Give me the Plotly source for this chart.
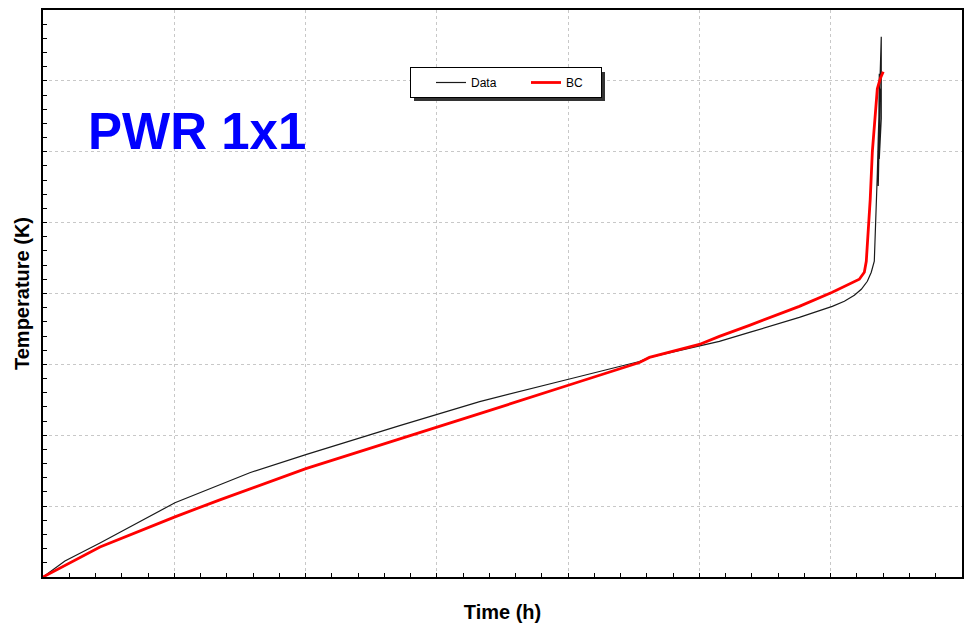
import plotly.graph_objects as go

# ---- data (grid units; tick labels absent in source) ----
data_time = [0, 0.167, 0.434, 1.005, 1.575, 2.002, 2.717, 2.998, 3.326, 3.995, 4.543,
             4.619, 4.999, 5.152, 5.381, 5.761, 6.012, 6.104, 6.180, 6.233, 6.279,
             6.309, 6.332, 6.339, 6.347, 6.355, 6.362, 6.370, 6.377, 6.385, 6.385,
             6.370, 6.377, 6.362, 6.370, 6.377]
data_temp = [0, 0.226, 0.481, 1.047, 1.471, 1.726, 2.136, 2.291, 2.475, 2.786, 3.041,
             3.098, 3.253, 3.324, 3.451, 3.663, 3.819, 3.890, 3.975, 4.059, 4.173,
             4.300, 4.455, 4.767, 5.191, 5.686, 6.181, 6.605, 7.143, 7.624, 6.464,
             5.898, 6.888, 5.516, 7.100, 6.747]

bc_time = [0, 0.129, 0.434, 1.005, 1.347, 2.002, 2.998, 3.326, 3.995, 4.543, 4.619,
           4.999, 5.152, 5.381, 5.761, 6.012, 6.218, 6.256, 6.271, 6.286, 6.301,
           6.317, 6.339, 6.355, 6.377, 6.400]
bc_temp = [0, 0.127, 0.424, 0.849, 1.089, 1.528, 2.107, 2.305, 2.702, 3.027, 3.098,
           3.281, 3.395, 3.550, 3.819, 4.017, 4.201, 4.300, 4.455, 4.837, 5.332,
           5.997, 6.464, 6.888, 7.030, 7.129]

x_range = [0, 7]
y_range = [0, 8]

fig = go.Figure()
fig.add_trace(go.Scatter(x=data_time, y=data_temp, mode="lines", name="Data",
                         line=dict(color="#1a1a1a", width=1.2)))
fig.add_trace(go.Scatter(x=bc_time, y=bc_temp, mode="lines", name="BC",
                         line=dict(color="#ff0000", width=2.8)))

W, H = 966, 636
ml, mr, mt, mb = 43, 4, 10, 59
pw, ph = W - ml - mr, H - mt - mb

def px(xp):
    return (xp - ml) / pw

def py(yp):
    return (H - mb - yp) / ph

axis_common = dict(
    showline=True, linecolor="black", linewidth=2, mirror=True,
    showgrid=True, gridcolor="#c8c8c8", griddash="dot", gridwidth=1,
    zeroline=False, showticklabels=False,
    ticks="inside", ticklen=4, tickcolor="black", tickwidth=1,
    minor=dict(ticks="inside", ticklen=4, tickcolor="black", nticks=5, showgrid=False),
)

fig.update_xaxes(range=x_range, dtick=1, tick0=0,
                 title=dict(text="<b>Time (h)</b>", font=dict(size=20, family="Liberation Sans, Arial", color="black"), standoff=27),
                 **axis_common)
fig.update_yaxes(range=y_range, dtick=1, tick0=0,
                 title=dict(text="<b>Temperature (K)</b>", font=dict(size=20, family="Liberation Sans, Arial", color="black"), standoff=6),
                 **axis_common)

# legend shadow
fig.add_shape(type="rect", xref="paper", yref="paper",
              x0=px(414), x1=px(605), y0=py(101), y1=py(72),
              fillcolor="#333333", line=dict(width=0), layer="above")

fig.add_annotation(text="<b>PWR 1x1</b>", xref="paper", yref="paper",
                   x=px(86), y=py(131), xanchor="left", yanchor="middle",
                   showarrow=False,
                   font=dict(size=51, family="Liberation Sans, Arial", color="#0000ff"))

fig.update_layout(
    width=W, height=H,
    margin=dict(l=ml, r=mr, t=mt, b=mb, autoexpand=False),
    paper_bgcolor="white", plot_bgcolor="white",
    font=dict(family="Liberation Sans, Arial", color="black"),
    showlegend=True,
    legend=dict(orientation="h", x=px(410), y=py(67), xanchor="left", yanchor="top",
                bgcolor="white", bordercolor="black", borderwidth=1,
                font=dict(size=12, family="Liberation Sans, Arial", color="black"),
                entrywidth=30, entrywidthmode="pixels", indentation=20,
                itemwidth=30),
)

fig.write_html("out.html", config={"displayModeBar": False},
               post_script="document.body.style.margin='0';document.body.style.padding='0';document.body.style.overflow='hidden';")
